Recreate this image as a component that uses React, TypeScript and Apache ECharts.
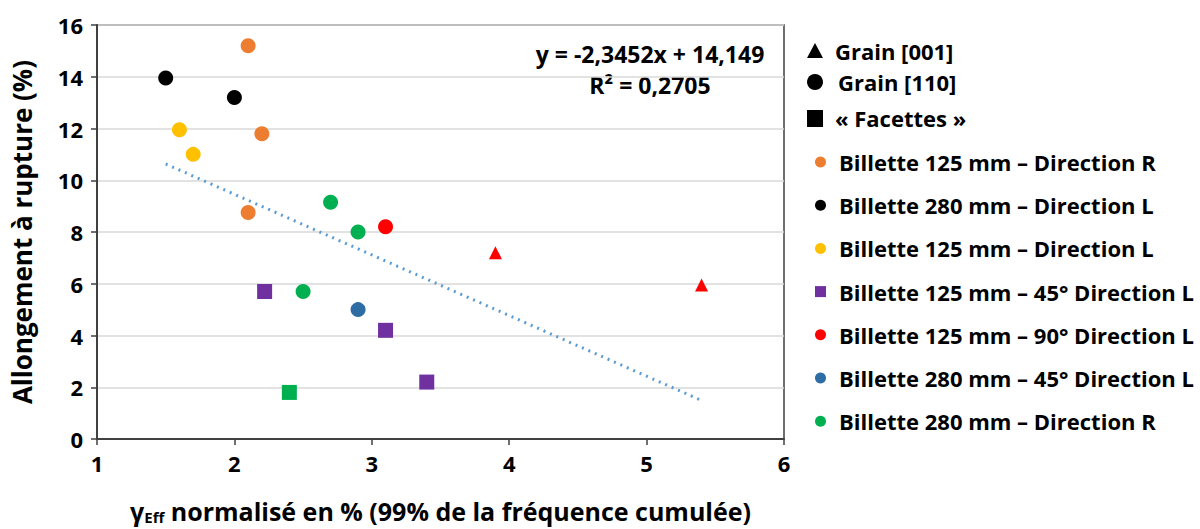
import React, { useEffect, useRef } from "react";
import * as echarts from "echarts";

const FONT = "Open Sans";

const seriesNames = [
  "Billette 125 mm – Direction R",
  "Billette 280 mm – Direction L",
  "Billette 125 mm – Direction L",
  "Billette 125 mm – 45° Direction L",
  "Billette 125 mm – 90° Direction L",
  "Billette 280 mm – 45° Direction L",
  "Billette 280 mm – Direction R",
];
const seriesColors = ["#ED7D31", "#000000", "#FFC000", "#7030A0", "#FF0000", "#2E6CA4", "#00B050"];
const legendIcons = ["circle", "circle", "circle", "rect", "circle", "circle", "circle"];

// [x, y, shape]
const billette125R: [number, number, string][] = [[2.1, 15.2, "circle"], [2.2, 11.8, "circle"], [2.1, 8.75, "circle"]];
const billette280L: [number, number, string][] = [[1.5, 13.95, "circle"], [2.0, 13.2, "circle"]];
const billette125L: [number, number, string][] = [[1.6, 11.95, "circle"], [1.7, 11.0, "circle"]];
const billette125_45L: [number, number, string][] = [[2.22, 5.7, "rect"], [3.1, 4.2, "rect"], [3.4, 2.2, "rect"]];
const billette125_90L: [number, number, string][] = [[3.1, 8.2, "circle"], [3.9, 7.2, "triangle"], [5.4, 5.95, "triangle"]];
const billette280_45L: [number, number, string][] = [[2.9, 5.0, "circle"]];
const billette280R: [number, number, string][] = [[2.7, 9.15, "circle"], [2.9, 8.0, "circle"], [2.5, 5.7, "circle"], [2.4, 1.8, "rect"]];

const allData = [billette125R, billette280L, billette125L, billette125_45L, billette125_90L, billette280_45L, billette280R];

const trendX = [1.5, 5.4];
const trendY = [10.63, 1.49];
const equationText = "y = -2,3452x + 14,149";
const r2Text = "R² = 0,2705";

const keyItems = ["Grain [001]", "Grain [110]", "« Facettes »"];

export default function App() {
  const ref = useRef<HTMLDivElement>(null);
  useEffect(() => {
    if (!ref.current) return;
    const chart = echarts.init(ref.current, null, { renderer: "svg" });
    const scatterSeries = allData.map((d, i) => ({
      name: seriesNames[i],
      type: "scatter",
      data: d.map((p) => ({
        value: [p[0], p[1]],
        symbol: p[2],
        symbolSize: p[2] === "triangle" ? 13 : 15,
      })),
      itemStyle: { color: seriesColors[i], opacity: 1 },
      z: 3,
    }));
    const option: any = {
      animation: false,
      backgroundColor: "#ffffff",
      textStyle: { fontFamily: FONT },
      grid: {
        left: 97,
        top: 25,
        width: 687,
        height: 416,
        show: true,
        borderColor: "#404040",
        borderWidth: 1.5,
      },
      xAxis: {
        type: "value",
        min: 1,
        max: 6,
        interval: 1,
        axisLine: { lineStyle: { color: "#404040", width: 2 } },
        axisTick: { show: true, length: 6, lineStyle: { color: "#404040", width: 1.5 } },
        axisLabel: { color: "#000", fontSize: 22, fontWeight: "bold", fontFamily: FONT, margin: 13 },
        splitLine: { show: false },
        name: "{g|γ}{sub|Eff}{g| normalisé en % (99% de la fréquence cumulée)}",
        nameLocation: "middle",
        nameGap: 59,
        nameTextStyle: {
          rich: {
            g: { fontSize: 25, fontWeight: "bold", color: "#000", fontFamily: FONT },
            sub: { fontSize: 15, fontWeight: "bold", color: "#000", fontFamily: FONT, verticalAlign: "bottom", padding: [11, 0, 0, 0] },
          },
        },
      },
      yAxis: {
        type: "value",
        min: 0,
        max: 16,
        interval: 2,
        axisLine: { show: true, lineStyle: { color: "#404040", width: 2 } },
        axisTick: { show: true, length: 6, lineStyle: { color: "#404040", width: 1.5 } },
        axisLabel: { color: "#000", fontSize: 22, fontWeight: "bold", fontFamily: FONT, margin: 14 },
        splitLine: { show: true, lineStyle: { color: "#D9D9D9", width: 1.5 } },
        name: "Allongement à rupture (%)",
        nameLocation: "middle",
        nameGap: 62,
        nameTextStyle: { fontSize: 26, fontWeight: "bold", color: "#000", fontFamily: FONT },
      },
      legend: {
        orient: "vertical",
        left: 810,
        top: 145,
        itemWidth: 11,
        itemHeight: 11,
        itemGap: 19.2,
        data: seriesNames.map((n, i) => ({ name: n, icon: legendIcons[i] })),
        textStyle: { fontSize: 22, fontWeight: "bold", color: "#000", fontFamily: FONT, lineHeight: 24, padding: [0, 0, 0, 8] },
        selectedMode: false,
      },
      graphic: [
        { type: "polygon", shape: { points: [[815, 43], [823, 58], [807, 58]] }, style: { fill: "#000" } },
        { type: "circle", shape: { cx: 815, cy: 82, r: 8 }, style: { fill: "#000" } },
        { type: "rect", shape: { x: 807, y: 110, width: 16, height: 17 }, style: { fill: "#000" } },
        ...keyItems.map((t, i) => ({
          type: "text",
          x: i === 1 ? 838 : 835,
          y: [51, 82, 118][i],
          style: { text: t, fontSize: 22, fontWeight: "bold", fill: "#000", fontFamily: FONT, textVerticalAlign: "middle" },
        })),
        {
          type: "text",
          x: 650,
          y: 54,
          style: { text: equationText, fontSize: 23, fontWeight: "bold", fill: "#000", fontFamily: FONT, textAlign: "center", textVerticalAlign: "middle" },
        },
        {
          type: "text",
          x: 650,
          y: 85,
          style: { text: r2Text, fontSize: 23, fontWeight: "bold", fill: "#000", fontFamily: FONT, textAlign: "center", textVerticalAlign: "middle" },
        },
      ],
      series: [
        ...scatterSeries,
        {
          name: "Linéaire",
          type: "line",
          data: trendX.map((x, i) => [x, trendY[i]]),
          symbol: "none",
          lineStyle: { color: "#5B9BD5", width: 3, type: [2, 5] },
          z: 2,
        },
      ],
    };
    chart.setOption(option);
    return () => chart.dispose();
  }, []);
  return <div ref={ref} style={{ position: "fixed", left: 0, top: 0, width: 1200, height: 529, background: "#fff" }} />;
}
